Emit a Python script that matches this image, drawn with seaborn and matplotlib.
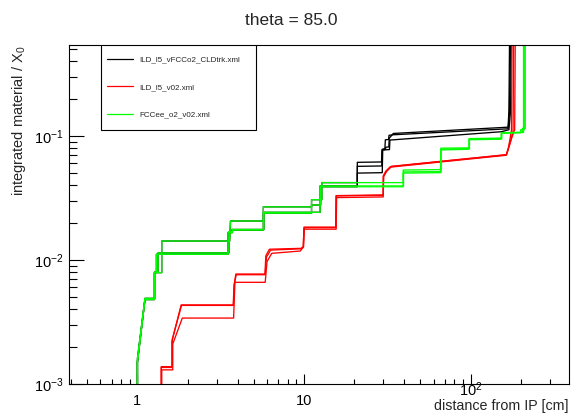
import numpy as np
import pandas as pd
import matplotlib
matplotlib.use("Agg")
import matplotlib.pyplot as plt
from matplotlib.lines import Line2D
from matplotlib.patches import Rectangle
from matplotlib.transforms import ScaledTranslation
from matplotlib.ticker import FuncFormatter, LogLocator, NullFormatter
import seaborn as sns

# geometries and their line colours
geometries = ["ILD_l5_vFCCo2_CLDtrk.xml", "ILD_l5_v02.xml", "FCCee_o2_v02.xml"]
line_colors = ["#000000", "#ff0000", "#00ff00"]

# ILD_l5_vFCCo2_CLDtrk.xml: radius [cm] vs cumulative X/X0, three phi slices
cld_r_a = [1.0, 1.0, 1.11, 1.265, 1.265, 1.40, 1.40, 3.58, 3.62, 5.70, 5.70, 11.1, 11.1, 12.8, 12.8,
           20.9, 20.9, 29.2, 29.4, 30.8, 31.0, 32.3, 32.5, 34.4, 168, 170, 172]
cld_x0_a = [0.0005, 0.0015, 0.0048, 0.0048, 0.0079, 0.0079, 0.0142, 0.0142, 0.0206, 0.0206, 0.0268,
            0.0268, 0.0306, 0.0306, 0.0420, 0.0420, 0.0612, 0.0616, 0.0770, 0.0775, 0.0810, 0.0815,
            0.0957, 0.1046, 0.1175, 0.160, 1.0]
cld_r_b = [1.0, 1.0, 1.11, 1.265, 1.265, 1.30, 1.30, 3.50, 3.50, 3.72, 3.72, 5.70, 5.70, 11.1, 11.1,
           12.6, 12.6, 20.9, 20.9, 29.3, 29.5, 30.6, 30.8, 32.2, 32.4, 34.2, 168, 171, 175]
cld_x0_b = [0.0005, 0.0015, 0.0048, 0.0048, 0.0079, 0.0079, 0.0111, 0.0111, 0.0166, 0.0166, 0.0174,
            0.0174, 0.0238, 0.0238, 0.0277, 0.0277, 0.0389, 0.0389, 0.0568, 0.0572, 0.0780, 0.0790,
            0.0930, 0.0935, 0.1010, 0.1020, 0.1140, 0.150, 1.0]
cld_r_c = [1.0, 1.0, 1.11, 1.27, 1.27, 1.33, 1.33, 3.55, 3.55, 3.70, 3.70, 5.75, 5.75, 12.5, 12.5,
           20.9, 20.9, 29.5, 29.7, 32.6, 32.8, 153, 170, 174, 176]
cld_x0_c = [0.0005, 0.0016, 0.0049, 0.0049, 0.0080, 0.0080, 0.0114, 0.0114, 0.0169, 0.0169, 0.0176,
            0.0176, 0.0242, 0.0242, 0.0395, 0.0395, 0.0501, 0.0505, 0.0770, 0.0775, 0.0925, 0.1080,
            0.1120, 0.160, 1.0]

# ILD_l5_v02.xml
ild_r_a = [1.39, 1.39, 1.61, 1.61, 1.83, 3.76, 3.80, 3.90, 5.83, 5.90, 6.20, 9.60, 9.90, 10.0, 15.5,
           15.6, 29.9, 29.9, 31.0, 33.0, 164, 168, 172, 176, 178]
ild_x0_a = [0.0005, 0.00136, 0.00136, 0.0022, 0.00434, 0.00434, 0.0062, 0.0077, 0.0077, 0.0108,
            0.0122, 0.0124, 0.0128, 0.0184, 0.0184, 0.0330, 0.0334, 0.0475, 0.0520, 0.0565, 0.0703,
            0.078, 0.092, 0.111, 1.0]
ild_r_b = [1.40, 1.40, 1.63, 1.63, 1.86, 3.78, 3.85, 5.85, 6.00, 6.40, 9.50, 9.90, 10.0, 15.6, 15.7,
           29.9, 30.0, 31.2, 33.2, 164, 168, 174, 180, 182]
ild_x0_b = [0.0005, 0.0013, 0.0013, 0.0021, 0.0034, 0.0034, 0.0066, 0.0066, 0.0097, 0.0113, 0.0118,
            0.0127, 0.0177, 0.0177, 0.0318, 0.0322, 0.0470, 0.0515, 0.0560, 0.0698, 0.077, 0.090,
            0.110, 1.0]
ild_r_c = [1.39, 1.39, 1.62, 1.62, 1.84, 3.77, 3.82, 3.92, 5.84, 5.95, 6.30, 9.70, 9.95, 10.05, 15.5,
           15.6, 29.9, 30.1, 31.5, 33.5, 164, 169, 176, 184, 186]
ild_x0_c = [0.0005, 0.00138, 0.00138, 0.0023, 0.0043, 0.0043, 0.0064, 0.0076, 0.0076, 0.0105, 0.0120,
            0.0123, 0.0128, 0.0182, 0.0182, 0.0328, 0.0332, 0.0472, 0.0525, 0.0568, 0.0706, 0.080,
            0.095, 0.112, 1.0]

# FCCee_o2_v02.xml
fcc_r_a = [1.0, 1.0, 1.11, 1.265, 1.265, 1.30, 1.30, 3.50, 3.50, 3.72, 3.72, 5.70, 5.70, 11.1, 11.1,
           12.6, 12.6, 39.4, 39.4, 66.3, 66.3, 98.0, 98.0, 153, 153, 200, 200, 210, 210]
fcc_x0_a = [0.0005, 0.0015, 0.0048, 0.0048, 0.0079, 0.0079, 0.0111, 0.0111, 0.0166, 0.0166, 0.0174,
            0.0174, 0.0238, 0.0238, 0.0277, 0.0277, 0.0389, 0.0389, 0.0501, 0.0505, 0.0770, 0.0780,
            0.0930, 0.0940, 0.1050, 0.1060, 0.1120, 0.1120, 1.0]
fcc_r_b = [1.0, 1.0, 1.11, 1.265, 1.265, 1.40, 1.40, 3.58, 3.62, 5.70, 5.70, 11.1, 11.1, 12.8, 12.8,
           39.4, 39.4, 66.3, 66.3, 98.0, 98.0, 153, 153, 205, 205, 213, 213]
fcc_x0_b = [0.0005, 0.0015, 0.0048, 0.0048, 0.0079, 0.0079, 0.0142, 0.0142, 0.0206, 0.0206, 0.0268,
            0.0268, 0.0306, 0.0306, 0.0420, 0.0420, 0.0530, 0.0535, 0.0796, 0.0800, 0.0950, 0.0960,
            0.1060, 0.1070, 0.1150, 0.1150, 1.0]
fcc_r_c = [1.0, 1.0, 1.11, 1.27, 1.27, 1.33, 1.33, 3.55, 3.55, 3.70, 3.70, 5.75, 5.75, 12.5, 12.5,
           39.6, 39.6, 66.5, 66.5, 98.5, 98.5, 154, 154, 208, 208]
fcc_x0_c = [0.0005, 0.0016, 0.0049, 0.0049, 0.0080, 0.0080, 0.0114, 0.0114, 0.0169, 0.0169, 0.0176,
            0.0176, 0.0242, 0.0242, 0.0395, 0.0395, 0.0512, 0.0515, 0.0780, 0.0790, 0.0940, 0.0950,
            0.1055, 0.1065, 1.0]

x_ticks = [1, 10, 100]
x_tick_labels = ["1", "10", "$10^{2}$"]

curves = [
    (geometries[0], "a", cld_r_a, cld_x0_a),
    (geometries[0], "b", cld_r_b, cld_x0_b),
    (geometries[0], "c", cld_r_c, cld_x0_c),
    (geometries[1], "a", ild_r_a, ild_x0_a),
    (geometries[1], "b", ild_r_b, ild_x0_b),
    (geometries[1], "c", ild_r_c, ild_x0_c),
    (geometries[2], "a", fcc_r_a, fcc_x0_a),
    (geometries[2], "b", fcc_r_b, fcc_x0_b),
    (geometries[2], "c", fcc_r_c, fcc_x0_c),
]
frames = []
for geo, phi, r, x0 in curves:
    frames.append(pd.DataFrame({"geometry": geo, "slice": f"{geo}:{phi}",
                                "r": r, "x0": x0}))
df = pd.concat(frames, ignore_index=True)

sns.set_theme(style="white")
plt.rcParams["font.family"] = ["Liberation Sans", "DejaVu Sans"]
plt.rcParams["mathtext.fontset"] = "custom"
plt.rcParams["mathtext.rm"] = "Liberation Sans"
plt.rcParams["mathtext.it"] = "Liberation Sans:italic"
plt.rcParams["mathtext.bf"] = "Liberation Sans:bold"

fig = plt.figure(figsize=(5.72, 4.20), dpi=100)
fig.patch.set_facecolor("white")
ax_left, ax_right, ax_top, ax_bottom = 69.3, 569.0, 45.0, 384.0
ax_w, ax_h = ax_right - ax_left, ax_bottom - ax_top
ax = fig.add_axes([ax_left / 572, 1 - ax_bottom / 420, ax_w / 572, ax_h / 420])
ax.set_facecolor("white")

sns.lineplot(data=df, x="r", y="x0", hue="geometry", units="slice", estimator=None,
             sort=False, hue_order=geometries, palette=line_colors, linewidth=0.95,
             legend=False, ax=ax)

ax.set_xscale("log")
ax.set_yscale("log")
ax.set_xlim(0.39, 390)
ax.set_ylim(1e-3, 0.54)

ax.xaxis.set_minor_locator(LogLocator(base=10, subs=np.arange(2, 10)))
ax.yaxis.set_major_locator(LogLocator(base=10))
ax.yaxis.set_minor_locator(LogLocator(base=10, subs=np.arange(2, 10)))
ax.set_xticks(x_ticks)
ax.set_xticklabels(x_tick_labels)
ax.xaxis.set_minor_formatter(NullFormatter())
ax.yaxis.set_major_formatter(FuncFormatter(lambda v, p: f"$10^{{{int(round(np.log10(v)))}}}$"))
ax.yaxis.set_minor_formatter(NullFormatter())

ax.tick_params(axis="both", which="both", direction="in", bottom=True, left=True,
               top=False, right=False, colors="black", width=0.8, labelsize=10.5)
ax.tick_params(axis="x", which="major", length=7.2, pad=7)
ax.tick_params(axis="x", which="minor", length=3.6)
ax.tick_params(axis="y", which="major", length=10.8, pad=4)
ax.tick_params(axis="y", which="minor", length=5.4)
for s in ax.spines.values():
    s.set_color("black")
    s.set_linewidth(0.8)
ax.set_xlabel("")
ax.set_ylabel("")
ax.grid(False)

# the 10^2 label sits higher, just above the axis title
lab = ax.xaxis.get_major_ticks()[2].label1
lab.set_transform(lab.get_transform() + ScaledTranslation(0, 13 / 100, fig.dpi_scale_trans))

# legend box and entries
ax.add_patch(Rectangle(((101 - ax_left) / ax_w, (ax_bottom - 130) / ax_h),
                       155 / ax_w, 85 / ax_h, transform=ax.transAxes,
                       facecolor="white", edgecolor="black", linewidth=0.8, zorder=4))
handles = [Line2D([0], [0], color=c, lw=0.9) for c in line_colors]
leg = ax.legend(handles, geometries, loc="upper left",
                bbox_to_anchor=((107 - ax_left) / ax_w, (ax_bottom - 56) / ax_h),
                fontsize=5.8, frameon=False, handlelength=3.2, handletextpad=0.85,
                labelspacing=2.45, borderpad=0, borderaxespad=0)
leg.set_zorder(5)

fig.text(291.7 / 572, 1 - 25 / 420, "theta = 85.0", ha="center", va="baseline", fontsize=12.5)
fig.text(568 / 572, 1 - 410 / 420, "distance from IP [cm]", ha="right", va="baseline",
         fontsize=10.3)
fig.text(19 / 572, 1 - 45 / 420, "integrated material / X$_{0}$", ha="center", va="top",
         rotation=90, fontsize=10.5)

fig.savefig("out.png", dpi=100, facecolor="white")
